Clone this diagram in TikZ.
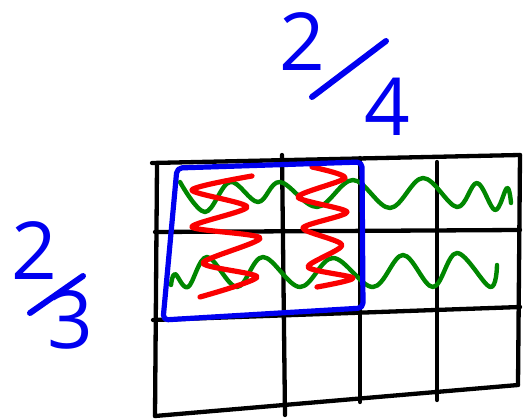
\documentclass[tikz,border=0pt]{standalone}
\usepackage{fontspec}
\setmainfont{Open Sans}
\definecolor{penblue}{RGB}{0,0,240}
\definecolor{penred}{RGB}{250,0,0}
\definecolor{pengreen}{RGB}{0,135,0}
\tikzset{
  gridline/.style={line width=4.3pt, black, line cap=round, line join=round},
  bluebox/.style={line width=5.2pt, penblue, line cap=round, line join=round, rounded corners=5pt},
  wave/.style={line width=4.4pt, pengreen, line cap=round, line join=round},
  zig/.style={line width=5.2pt, penred, line cap=round, line join=round},
  digit/.style={penblue, inner sep=0pt, font=\fontsize{80}{80}\selectfont},
  penslash/.style={line width=6pt, penblue, line cap=round}
}
\begin{document}
\begin{tikzpicture}[x=1pt,y=-1pt]
\useasboundingbox (0,0) rectangle (524,419);
% grid
\draw[gridline] (152,163) -- (520,155);
\draw[gridline] (155,232) -- (520,230);
\draw[gridline] (153,320) -- (520,307);
\draw[gridline] (155,416) -- (518,385);
\draw[gridline] (157,165) -- (155,416);
\draw[gridline] (282,155) -- (285,415);
\draw[gridline] (360,158) -- (360,402);
\draw[gridline] (437,162) -- (437,400);
\draw[gridline] (520,155) -- (519,270) -- (518,385);
% green waves
\draw[wave] plot[smooth, tension=0.6] coordinates {(180,182) (205,212) (230,182) (258,202) (280,182) (317,207) (353,180) (390,208) (423,178) (457,207) (477,183) (495,210) (507,188) (511,203)};
\draw[wave] plot[smooth, tension=0.6] coordinates {(171,285) (175,274) (188,287) (207,257) (237,287) (263,257) (300,287) (333,258) (373,287) (403,255) (433,287) (457,253) (490,287) (497,265)};
% red zigzags
\draw[zig] plot[smooth, tension=0.45] coordinates {(252,176) (192,190) (247,207) (192,227) (260,238) (203,263) (257,277) (200,297)};
\draw[zig] plot[smooth, tension=0.45] coordinates {(312,167) (345,178) (298,197) (347,212) (303,228) (342,245) (308,267) (353,278) (317,287)};
% blue box
\draw[bluebox] (177,168) -- (362,162) -- (363,308) -- (163,320) -- cycle;
% labels
\node[digit] (twoA) at (302,42) {2};
\node[digit] (four) at (387,107) {4};
\coordinate (sA1) at (312,97);
\coordinate (sA2) at (386,41);
\draw[penslash] (sA1) -- (sA2);
\node[digit] (twoB) at (34,251) {2};
\node[digit] (three) at (70,320) {3};
\coordinate (sB1) at (30,313);
\coordinate (sB2) at (83,276);
\draw[penslash] (sB1) -- (sB2);
\end{tikzpicture}
\end{document}
